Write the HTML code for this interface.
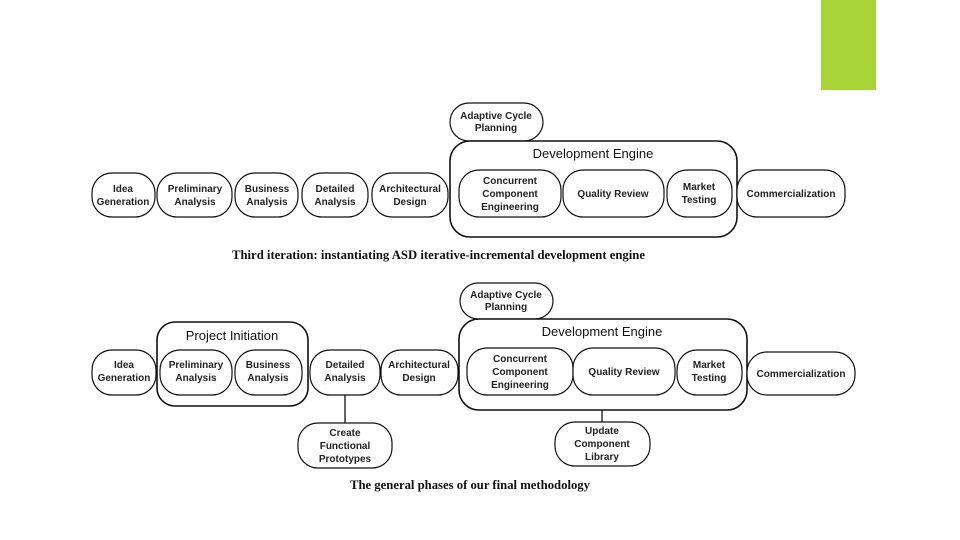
<!DOCTYPE html>
<html><head><meta charset="utf-8"><style>
html,body{margin:0;padding:0;background:#fff}
svg{display:block}
.n{font-family:"Liberation Sans",sans-serif;font-size:10px;font-weight:bold;fill:#222;text-anchor:middle}
.t{font-family:"Liberation Sans",sans-serif;font-size:13px;fill:#111;text-anchor:middle}
.c{font-family:"Liberation Serif",serif;font-size:13px;font-weight:bold;fill:#111}
rect{fill:#fff;stroke:#111;stroke-width:1.2}
</style></head><body>
<svg width="960" height="540" viewBox="0 0 960 540">
<rect x="821" y="0" width="55" height="90" style="fill:#a8d438;stroke:none"/>
<!-- top -->
<rect x="450" y="103" width="93" height="38" rx="19"/>
<text class="n" x="496" y="119">Adaptive Cycle</text><text class="n" x="496" y="131">Planning</text>
<rect x="450" y="141" width="287" height="96" rx="20" style="stroke-width:1.6"/>
<text class="t" x="593" y="158">Development Engine</text>
<rect x="92" y="173" width="63" height="44" rx="20"/>
<text class="n" x="123" y="192">Idea</text><text class="n" x="123" y="205">Generation</text>
<rect x="157" y="173" width="75" height="44" rx="20"/>
<text class="n" x="195" y="192">Preliminary</text><text class="n" x="195" y="205">Analysis</text>
<rect x="235" y="173" width="63" height="44" rx="20"/>
<text class="n" x="267" y="192">Business</text><text class="n" x="267" y="205">Analysis</text>
<rect x="302" y="173" width="66" height="44" rx="20"/>
<text class="n" x="335" y="192">Detailed</text><text class="n" x="335" y="205">Analysis</text>
<rect x="372" y="173" width="76" height="44" rx="20"/>
<text class="n" x="410" y="192">Architectural</text><text class="n" x="410" y="205">Design</text>
<rect x="459" y="170" width="102" height="47" rx="20"/>
<text class="n" x="510" y="184">Concurrent</text><text class="n" x="510" y="197">Component</text><text class="n" x="510" y="210">Engineering</text>
<rect x="563" y="170" width="101" height="47" rx="20"/>
<text class="n" x="613" y="197">Quality Review</text>
<rect x="667" y="170" width="65" height="47" rx="20"/>
<text class="n" x="699" y="190">Market</text><text class="n" x="699" y="203">Testing</text>
<rect x="737" y="170" width="108" height="47" rx="20"/>
<text class="n" x="791" y="197">Commercialization</text>
<text class="c" x="232" y="259" textLength="413" lengthAdjust="spacingAndGlyphs">Third iteration: instantiating ASD iterative-incremental development engine</text>
<!-- bottom -->
<line x1="345" y1="395" x2="345" y2="424" stroke="#111" stroke-width="1.3"/>
<line x1="602" y1="410" x2="602" y2="423" stroke="#111" stroke-width="1.3"/>
<rect x="460" y="283" width="93" height="36" rx="18"/>
<text class="n" x="506" y="298">Adaptive Cycle</text><text class="n" x="506" y="310">Planning</text>
<rect x="459" y="319" width="288" height="91" rx="20" style="stroke-width:1.6"/>
<text class="t" x="602" y="336">Development Engine</text>
<rect x="157" y="322" width="151" height="84" rx="18" style="stroke-width:1.6"/>
<text class="t" x="232" y="340">Project Initiation</text>
<rect x="92" y="350" width="64" height="45" rx="20"/>
<text class="n" x="124" y="368">Idea</text><text class="n" x="124" y="381">Generation</text>
<rect x="160" y="350" width="72" height="45" rx="20"/>
<text class="n" x="196" y="368">Preliminary</text><text class="n" x="196" y="381">Analysis</text>
<rect x="235" y="350" width="67" height="45" rx="20"/>
<text class="n" x="268" y="368">Business</text><text class="n" x="268" y="381">Analysis</text>
<rect x="310" y="350" width="70" height="45" rx="20"/>
<text class="n" x="345" y="368">Detailed</text><text class="n" x="345" y="381">Analysis</text>
<rect x="381" y="350" width="77" height="45" rx="20"/>
<text class="n" x="419" y="368">Architectural</text><text class="n" x="419" y="381">Design</text>
<rect x="467" y="348" width="106" height="47" rx="20"/>
<text class="n" x="520" y="362">Concurrent</text><text class="n" x="520" y="375">Component</text><text class="n" x="520" y="388">Engineering</text>
<rect x="573" y="348" width="102" height="47" rx="20"/>
<text class="n" x="624" y="375">Quality Review</text>
<rect x="677" y="350" width="65" height="45" rx="20"/>
<text class="n" x="709" y="368">Market</text><text class="n" x="709" y="381">Testing</text>
<rect x="747" y="352" width="108" height="43" rx="20"/>
<text class="n" x="801" y="377">Commercialization</text>
<rect x="298" y="423" width="94" height="45" rx="20"/>
<text class="n" x="345" y="436">Create</text><text class="n" x="345" y="449">Functional</text><text class="n" x="345" y="462">Prototypes</text>
<rect x="555" y="422" width="95" height="44" rx="20"/>
<text class="n" x="602" y="434">Update</text><text class="n" x="602" y="447">Component</text><text class="n" x="602" y="460">Library</text>
<text class="c" x="350" y="489" textLength="240" lengthAdjust="spacingAndGlyphs">The general phases of our final methodology</text>
</svg>
</body></html>
